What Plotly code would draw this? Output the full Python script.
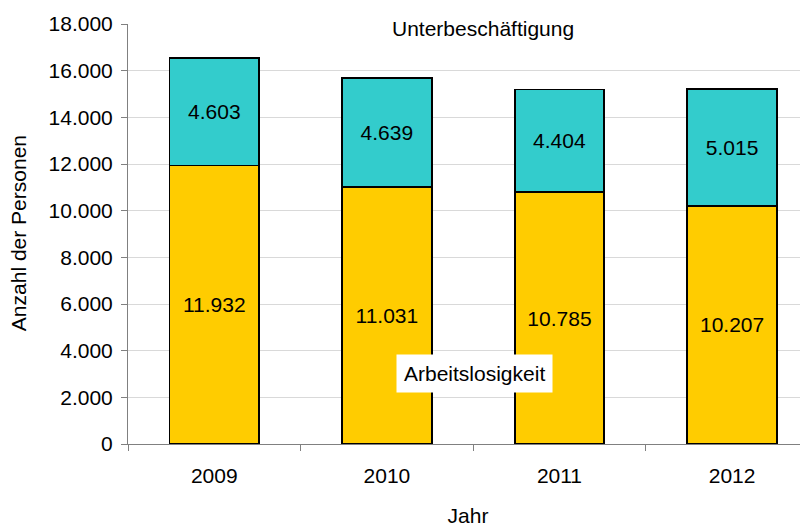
import plotly.graph_objects as go

years = ["2009", "2010", "2011", "2012"]
arbeitslosigkeit = [11932, 11031, 10785, 10207]
unterbeschaeftigung_extra = [4603, 4639, 4404, 5015]
y_ticks = [0, 2000, 4000, 6000, 8000, 10000, 12000, 14000, 16000, 18000]

FONT = "Liberation Sans, Arial, sans-serif"
FS = 21

fig = go.Figure()
fig.add_trace(go.Bar(
    x=years, y=arbeitslosigkeit, name="Arbeitslosigkeit",
    marker=dict(color="#FFCC00", line=dict(color="#000000", width=1.8)),
    texttemplate="%{y:,d}", textposition="inside", insidetextanchor="middle",
    textfont=dict(family=FONT, size=FS, color="#000000"), textangle=0,
    constraintext="none",
))
fig.add_trace(go.Bar(
    x=years, y=unterbeschaeftigung_extra, name="Unterbeschäftigung",
    marker=dict(color="#33CCCC", line=dict(color="#000000", width=1.8)),
    texttemplate="%{y:,d}", textposition="inside", insidetextanchor="middle",
    textfont=dict(family=FONT, size=FS, color="#000000"), textangle=0,
    constraintext="none",
))

fig.update_layout(
    barmode="stack", bargap=0.48,
    width=808, height=527,
    margin=dict(l=120, r=8, t=16, b=91, autoexpand=False),
    paper_bgcolor="white", plot_bgcolor="white",
    separators=",.",
    showlegend=False,
    font=dict(family=FONT, size=FS, color="#000000"),
    xaxis=dict(
        type="category", range=[-0.5, 3.44], automargin=False,
        showline=True, linecolor="#808080", linewidth=1,
        ticks="outside", tickson="boundaries", ticklen=6, tickcolor="#808080",
        tickfont=dict(size=FS), ticklabelstandoff=13,
        title=dict(text="Jahr", font=dict(size=FS), standoff=22),
    ),
    yaxis=dict(
        range=[0, 18000], tickvals=y_ticks, tickformat=",d", automargin=False,
        showline=True, linecolor="#808080", linewidth=1,
        ticks="outside", ticklen=6, tickcolor="#808080",
        showgrid=True, gridcolor="#D9D9D9", gridwidth=1,
        tickfont=dict(size=FS), ticklabelstandoff=4,
        zeroline=False,
    ),
    annotations=[
        dict(text="Anzahl der Personen", x=-0.1618, xref="paper", y=0.502, yref="paper",
             xanchor="center", yanchor="middle", textangle=-90,
             showarrow=False, font=dict(size=FS)),
        dict(text="Unterbeschäftigung", x=1.557, xref="x", y=17786, yref="y", yanchor="middle",
             showarrow=False, font=dict(size=FS)),
        dict(text="Arbeitslosigkeit", x=1.51, xref="x", y=3043, yref="y", yanchor="middle",
             showarrow=False, font=dict(size=FS), bgcolor="white", borderpad=7),
    ],
)

fig.write_html("out.html")
